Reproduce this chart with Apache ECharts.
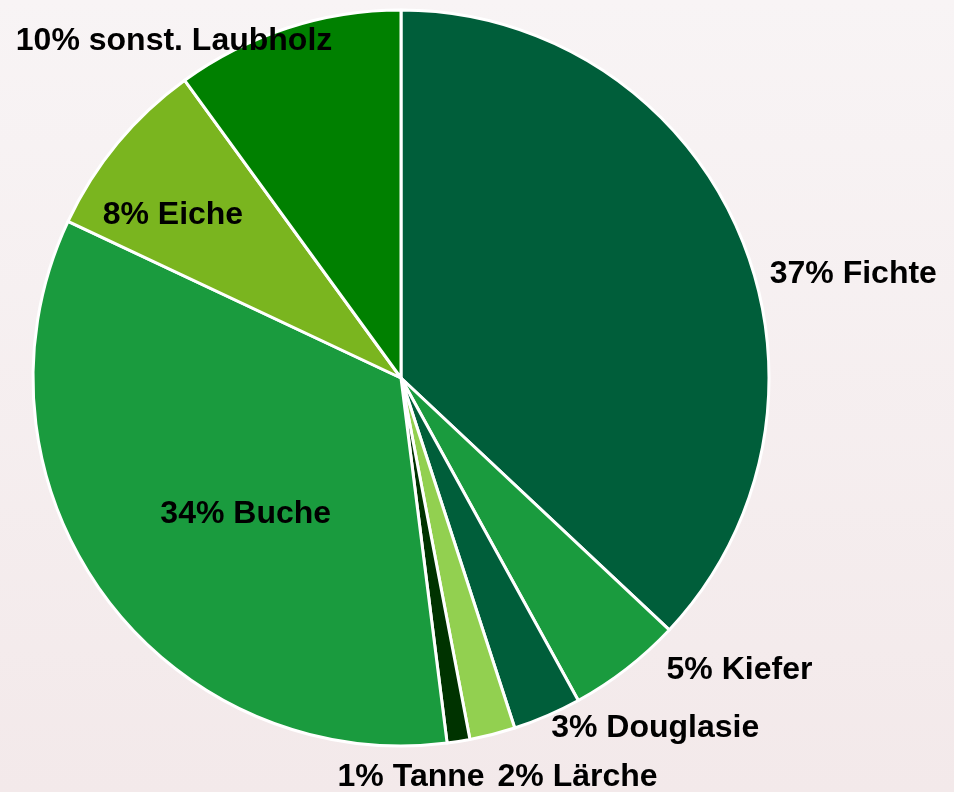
<!DOCTYPE html>
<html>
<head>
<meta charset="utf-8">
<script src="https://cdn.jsdelivr.net/npm/echarts@6/dist/echarts.min.js"></script>
<style>
  html, body { margin: 0; padding: 0; }
  #chart { width: 954px; height: 792px; }
</style>
</head>
<body>
<div id="chart"></div>
<script>
// Baumarten-Anteile (%), im Uhrzeigersinn ab 12 Uhr
const species = ["Fichte", "Kiefer", "Douglasie", "Lärche", "Tanne", "Buche", "Eiche", "sonst. Laubholz"];
const shares = [37, 5, 3, 2, 1, 34, 8, 10];
const colors = ["#005e3a", "#1a9b3e", "#005e3a", "#92d050", "#003300", "#1a9b3e", "#7ab51f", "#008000"];

// label placement: inside or outside, plus nudges from the default spot
const labelPos = ["outside", "outside", "outside", "outside", "outside", "inside", "inside", "outside"];
const labelNudge = [[31, 42], [40, 1], [4, 12], [5, 43], [-121, 36], [-4, 26], [-84, -44], [45, 13]];

const chart = echarts.init(document.getElementById("chart"), null, { renderer: "canvas" });

chart.setOption({
  animation: false,
  backgroundColor: new echarts.graphic.LinearGradient(0, 0, 0, 1, [
    { offset: 0, color: "#f8f4f5" },
    { offset: 1, color: "#f3e9ea" }
  ]),
  series: [{
    type: "pie",
    center: [401, 378],
    radius: [0, 368],
    startAngle: 90,
    clockwise: true,
    avoidLabelOverlap: false,
    itemStyle: { borderColor: "#ffffff", borderWidth: 3 },
    label: {
      color: "#000",
      fontFamily: "Liberation Sans, Arial, sans-serif",
      fontWeight: "bold",
      fontSize: 32,
      distanceToLabelLine: 0,
      formatter: (p) => p.value + "% " + p.name
    },
    labelLine: { show: false, length: 0, length2: 0 },
    labelLayout: (p) => ({ dx: labelNudge[p.dataIndex][0], dy: labelNudge[p.dataIndex][1] }),
    emphasis: { disabled: true },
    data: species.map((name, i) => ({
      name: name,
      value: shares[i],
      itemStyle: { color: colors[i] },
      label: { position: labelPos[i] }
    }))
  }]
});
</script>
</body>
</html>
